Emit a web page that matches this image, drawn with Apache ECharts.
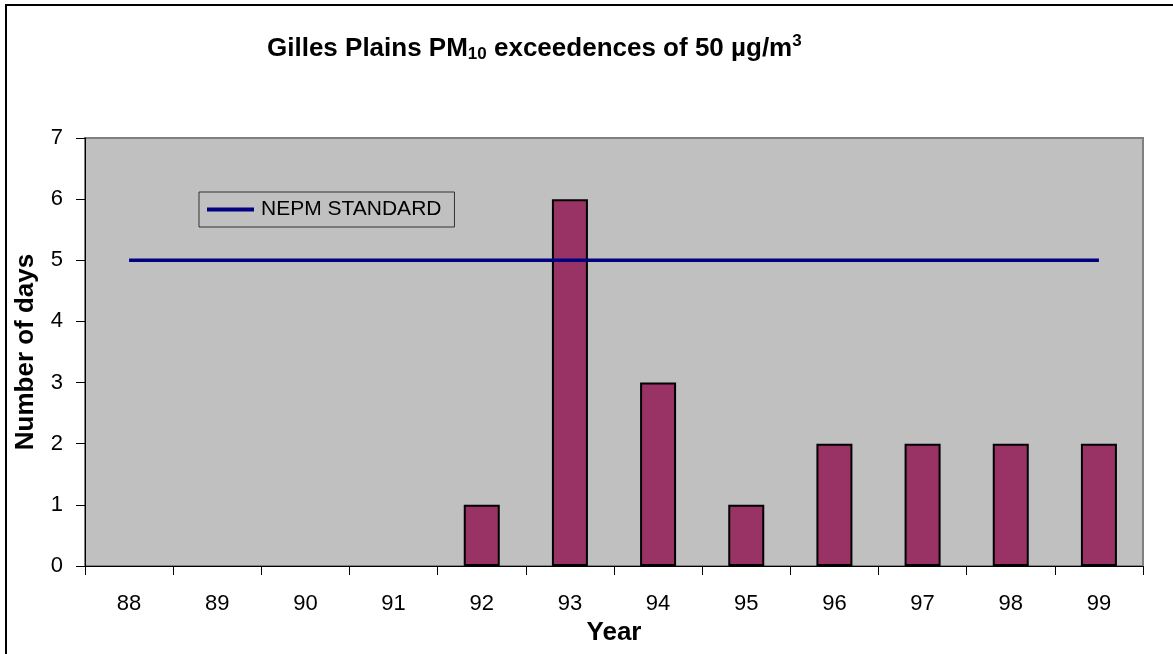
<!DOCTYPE html>
<html>
<head>
<meta charset="utf-8">
<script src="https://cdn.jsdelivr.net/npm/echarts@6/dist/echarts.min.js"></script>
<style>
  html, body { margin: 0; padding: 0; background: #fff; }
  #main { width: 1173px; height: 654px; }
</style>
</head>
<body>
<div id="main"></div>
<script>
// data
var years = ['88', '89', '90', '91', '92', '93', '94', '95', '96', '97', '98', '99'];
var exceedDays = [0, 0, 0, 0, 1, 6, 3, 1, 2, 2, 2, 2];
var nepmStandard = [5, 5, 5, 5, 5, 5, 5, 5, 5, 5, 5, 5];

var chart = echarts.init(document.getElementById('main'));
var font = 'Arial, "Liberation Sans", sans-serif';

// zero years get no bar at all (no outline on the axis)
var barData = exceedDays.map(function (v) { return v === 0 ? '-' : v; });

var option = {
    animation: false,
    textStyle: { fontFamily: font, color: '#000' },
    title: {
        text: 'Gilles Plains PM{sub|10} exceedences of 50 µg/m{sup|3}',
        left: 262,
        top: 28,
        textStyle: {
            fontFamily: font,
            fontSize: 26,
            fontWeight: 'bold',
            color: '#000',
            rich: {
                sub: { fontFamily: font, fontSize: 17, fontWeight: 'bold', color: '#000', padding: [11, 0, 0, 0] },
                sup: { fontFamily: font, fontSize: 17, fontWeight: 'bold', color: '#000', padding: [0, 0, 14, 0] }
            }
        }
    },
    // outer frame of the chart
    graphic: [{
        type: 'rect',
        shape: { x: 6, y: 5, width: 1180, height: 680 },
        style: { fill: null, stroke: '#000', lineWidth: 2 },
        silent: true
    }],
    legend: {
        data: ['NEPM STANDARD'],
        left: 199,
        top: 192,
        orient: 'horizontal',
        backgroundColor: '#c0c0c0',
        borderColor: '#333',
        borderWidth: 1,
        padding: [7, 13, 7, 8],
        itemWidth: 47,
        itemHeight: 4,
        icon: 'rect',
        textStyle: { fontFamily: font, fontSize: 21, color: '#000', padding: [0, 0, 0, 2] }
    },
    grid: {
        left: 85,
        right: 30,
        top: 138,
        bottom: 88,
        show: true,
        backgroundColor: '#c0c0c0',
        borderColor: '#808080',
        borderWidth: 2
    },
    xAxis: {
        type: 'category',
        data: years,
        boundaryGap: true,
        name: 'Year',
        nameLocation: 'middle',
        nameGap: 53,
        nameTextStyle: { fontFamily: font, fontSize: 26, fontWeight: 'bold', color: '#000' },
        axisLine: { show: true, lineStyle: { color: '#000', width: 1 } },
        axisTick: { show: true, length: 9, interval: 0, lineStyle: { color: '#000' } },
        axisLabel: { fontFamily: font, fontSize: 22, color: '#000', margin: 27, interval: 0 },
        splitLine: { show: false }
    },
    yAxis: {
        type: 'value',
        min: 0,
        max: 7,
        interval: 1,
        name: 'Number of days',
        nameLocation: 'middle',
        nameRotate: 90,
        nameGap: 46,
        nameTextStyle: { fontFamily: font, fontSize: 26, fontWeight: 'bold', color: '#000' },
        axisLine: { show: true, lineStyle: { color: '#000', width: 1 } },
        axisTick: { show: true, length: 9, lineStyle: { color: '#000' } },
        axisLabel: { fontFamily: font, fontSize: 22, color: '#000', margin: 22 },
        splitLine: { show: false }
    },
    series: [
        {
            name: 'Exceedences',
            type: 'bar',
            data: barData,
            barWidth: 36,
            z: 2,
            itemStyle: { color: '#993366', borderColor: '#000', borderWidth: 2 }
        },
        {
            name: 'NEPM STANDARD',
            type: 'line',
            data: nepmStandard,
            symbol: 'none',
            z: 3,
            lineStyle: { color: '#000080', width: 3.5 },
            itemStyle: { color: '#000080' }
        }
    ]
};

chart.setOption(option);
</script>
</body>
</html>
